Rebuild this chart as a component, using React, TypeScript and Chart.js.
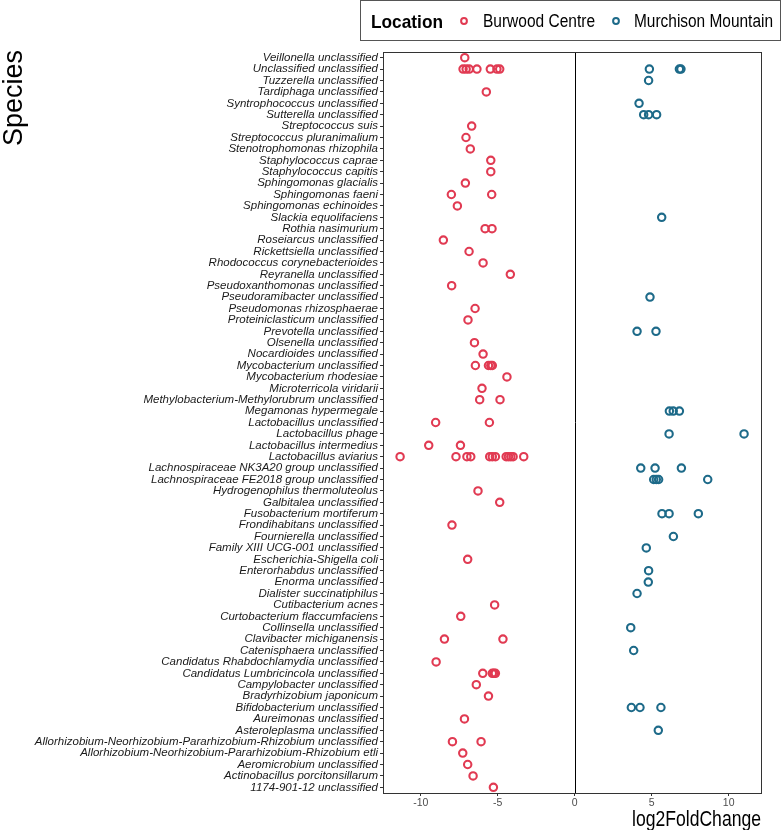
import React, { useEffect, useRef } from "react";
import { Chart, registerables } from "chart.js";

Chart.register(...registerables);

const species: string[] = [
  "Veillonella unclassified",
  "Unclassified unclassified",
  "Tuzzerella unclassified",
  "Tardiphaga unclassified",
  "Syntrophococcus unclassified",
  "Sutterella unclassified",
  "Streptococcus suis",
  "Streptococcus pluranimalium",
  "Stenotrophomonas rhizophila",
  "Staphylococcus caprae",
  "Staphylococcus capitis",
  "Sphingomonas glacialis",
  "Sphingomonas faeni",
  "Sphingomonas echinoides",
  "Slackia equolifaciens",
  "Rothia nasimurium",
  "Roseiarcus unclassified",
  "Rickettsiella unclassified",
  "Rhodococcus corynebacterioides",
  "Reyranella unclassified",
  "Pseudoxanthomonas unclassified",
  "Pseudoramibacter unclassified",
  "Pseudomonas rhizosphaerae",
  "Proteiniclasticum unclassified",
  "Prevotella unclassified",
  "Olsenella unclassified",
  "Nocardioides unclassified",
  "Mycobacterium unclassified",
  "Mycobacterium rhodesiae",
  "Microterricola viridarii",
  "Methylobacterium-Methylorubrum unclassified",
  "Megamonas hypermegale",
  "Lactobacillus unclassified",
  "Lactobacillus phage",
  "Lactobacillus intermedius",
  "Lactobacillus aviarius",
  "Lachnospiraceae NK3A20 group unclassified",
  "Lachnospiraceae FE2018 group unclassified",
  "Hydrogenophilus thermoluteolus",
  "Galbitalea unclassified",
  "Fusobacterium mortiferum",
  "Frondihabitans unclassified",
  "Fournierella unclassified",
  "Family XIII UCG-001 unclassified",
  "Escherichia-Shigella coli",
  "Enterorhabdus unclassified",
  "Enorma unclassified",
  "Dialister succinatiphilus",
  "Cutibacterium acnes",
  "Curtobacterium flaccumfaciens",
  "Collinsella unclassified",
  "Clavibacter michiganensis",
  "Catenisphaera unclassified",
  "Candidatus Rhabdochlamydia unclassified",
  "Candidatus Lumbricincola unclassified",
  "Campylobacter unclassified",
  "Bradyrhizobium japonicum",
  "Bifidobacterium unclassified",
  "Aureimonas unclassified",
  "Asteroleplasma unclassified",
  "Allorhizobium-Neorhizobium-Pararhizobium-Rhizobium unclassified",
  "Allorhizobium-Neorhizobium-Pararhizobium-Rhizobium etli",
  "Aeromicrobium unclassified",
  "Actinobacillus porcitonsillarum",
  "1174-901-12 unclassified",
];

// log2FoldChange values per species row (same order as species)
const burwoodValues: number[][] = [
  [-7.14],
  [-7.25, -7.05, -6.85, -6.35, -5.48, -5.05, -4.87],
  [],
  [-5.74],
  [],
  [],
  [-6.69],
  [-7.06],
  [-6.78],
  [-5.45],
  [-5.45],
  [-7.1],
  [-8.01, -5.39],
  [-7.62],
  [],
  [-5.82, -5.37],
  [-8.53],
  [-6.86],
  [-5.95],
  [-4.18],
  [-7.99],
  [],
  [-6.47],
  [-6.93],
  [],
  [-6.51],
  [-5.95],
  [-6.45, -5.6, -5.45, -5.35],
  [-4.4],
  [-6.02],
  [-6.17, -4.85],
  [],
  [-9.03, -5.54],
  [],
  [-9.48, -7.42],
  [-11.34, -7.71, -7.0, -6.75, -5.52, -5.35, -5.15, -4.45, -4.3, -4.15, -4.0, -3.31],
  [],
  [],
  [-6.28],
  [-4.87],
  [],
  [-7.97],
  [],
  [],
  [-6.95],
  [],
  [],
  [],
  [-5.2],
  [-7.4],
  [],
  [-8.46, -4.66],
  [],
  [-9.0],
  [-5.97, -5.35, -5.25, -5.15],
  [-6.39],
  [-5.6],
  [],
  [-7.16],
  [],
  [-7.94, -6.08],
  [-7.27],
  [-6.95],
  [-6.6],
  [-5.28],
];

const murchisonValues: number[][] = [
  [],
  [4.85, 6.8, 6.9],
  [4.8],
  [],
  [4.18],
  [4.48, 4.8, 5.32],
  [],
  [],
  [],
  [],
  [],
  [],
  [],
  [],
  [5.65],
  [],
  [],
  [],
  [],
  [],
  [],
  [4.89],
  [],
  [],
  [4.05, 5.28],
  [],
  [],
  [],
  [],
  [],
  [],
  [6.15, 6.4, 6.8],
  [],
  [6.13, 11.0],
  [],
  [],
  [4.29, 5.22, 6.93],
  [5.13, 5.3, 5.45, 8.64],
  [],
  [],
  [5.67, 6.13, 8.03],
  [],
  [6.41],
  [4.65],
  [],
  [4.8],
  [4.78],
  [4.05],
  [],
  [],
  [3.64],
  [],
  [3.83],
  [],
  [],
  [],
  [],
  [3.68, 4.24, 5.6],
  [],
  [5.43],
  [],
  [],
  [],
  [],
  [],
];

const xTickValues: number[] = [-10, -5, 0, 5, 10];
const seriesNames: string[] = ["Burwood Centre", "Murchison Mountain"];
const seriesColors: string[] = ["#E13A52", "#1D6A89"];
const legendTitle = "Location";
const xTitle = "log2FoldChange";
const yTitle = "Species";

const toPoints = (vals: number[][]) =>
  species.flatMap((s, i) => vals[i].map((v) => ({ x: v, y: s })));

const SANS = "'Liberation Sans', Arial, sans-serif";

// draw text squeezed horizontally to a target width
function fitText(
  ctx: CanvasRenderingContext2D,
  text: string,
  x: number,
  y: number,
  font: string,
  targetWidth: number,
  align: "left" | "right" | "center"
) {
  ctx.save();
  ctx.font = font;
  const w = ctx.measureText(text).width;
  const sx = targetWidth / w;
  ctx.translate(x, y);
  ctx.scale(sx, 1);
  ctx.textAlign = align;
  ctx.fillText(text, 0, 0);
  ctx.restore();
}

const decorPlugin = {
  id: "decor",
  beforeDatasetsDraw(chart: any) {
    const { ctx, chartArea, scales } = chart;
    ctx.save();
    const x0 = Math.round(scales.x.getPixelForValue(0)) + 0.5;
    ctx.strokeStyle = "#000";
    ctx.lineWidth = 1;
    ctx.beginPath();
    ctx.moveTo(x0, chartArea.top);
    ctx.lineTo(x0, chartArea.bottom);
    ctx.stroke();
    ctx.strokeStyle = "#333";
    ctx.strokeRect(
      Math.round(chartArea.left) + 0.5,
      Math.round(chartArea.top) + 0.5,
      Math.round(chartArea.right - chartArea.left),
      Math.round(chartArea.bottom - chartArea.top)
    );
    ctx.restore();
  },
  afterDraw(chart: any) {
    const { ctx, chartArea } = chart;
    ctx.save();
    // x title
    ctx.fillStyle = "#000";
    ctx.textBaseline = "alphabetic";
    fitText(ctx, xTitle, chartArea.right, 826, `22px ${SANS}`, 129, "right");
    // y title
    ctx.save();
    ctx.translate(22, 98);
    ctx.rotate(-Math.PI / 2);
    ctx.font = `27px ${SANS}`;
    ctx.textAlign = "center";
    ctx.textBaseline = "alphabetic";
    ctx.fillText(yTitle, 0, 0);
    ctx.restore();
    // legend box
    ctx.strokeStyle = "#555";
    ctx.lineWidth = 1;
    ctx.strokeRect(360.5, 0.5, 420, 40);
    ctx.fillStyle = "#000";
    ctx.textBaseline = "alphabetic";
    fitText(ctx, legendTitle, 371, 28, `bold 19px ${SANS}`, 72, "left");
    const markerX = [464, 616];
    const textX = [483, 634];
    const textW = [112, 139];
    seriesNames.forEach((name, i) => {
      ctx.beginPath();
      ctx.strokeStyle = seriesColors[i];
      ctx.lineWidth = 2;
      ctx.arc(markerX[i], 21, 2.9, 0, Math.PI * 2);
      ctx.stroke();
      ctx.fillStyle = "#000";
      fitText(ctx, name, textX[i], 27, `18px ${SANS}`, textW[i], "left");
    });
    ctx.restore();
  },
};

export default function App() {
  const ref = useRef<HTMLCanvasElement | null>(null);
  useEffect(() => {
    document.body.style.margin = "0";
    const canvas = ref.current;
    if (!canvas) return;
    const chart = new Chart(canvas, {
      type: "scatter",
      data: {
        labels: species,
        datasets: [
          {
            label: seriesNames[0],
            data: toPoints(burwoodValues) as any,
            borderColor: seriesColors[0],
            backgroundColor: "rgba(0,0,0,0)",
            pointRadius: 3.7,
            pointBorderWidth: 2.1,
          },
          {
            label: seriesNames[1],
            data: toPoints(murchisonValues) as any,
            borderColor: seriesColors[1],
            backgroundColor: "rgba(0,0,0,0)",
            pointRadius: 3.7,
            pointBorderWidth: 2.1,
          },
        ],
      },
      options: {
        animation: false,
        responsive: false,
        devicePixelRatio: 1,
        layout: { padding: { top: 52, right: 23, left: 0, bottom: 0 } },
        plugins: {
          legend: { display: false },
          tooltip: { enabled: false },
        },
        scales: {
          x: {
            type: "linear",
            min: -12.45,
            max: 12.1,
            afterBuildTicks: (scale: any) => {
              scale.ticks = xTickValues.map((v) => ({ value: v }));
            },
            afterFit: (scale: any) => {
              scale.height = 37;
            },
            grid: {
              display: true,
              drawOnChartArea: false,
              drawTicks: true,
              tickLength: 3,
              color: "#333",
            },
            border: { display: false },
            ticks: {
              padding: 1,
              color: "#4d4d4d",
              font: { family: SANS, size: 10.5 },
            },
          },
          y: {
            type: "category",
            labels: species,
            offset: true,
            afterFit: (scale: any) => {
              scale.width = 383;
            },
            grid: {
              display: true,
              offset: false,
              drawOnChartArea: false,
              drawTicks: true,
              tickLength: 3,
              color: "#333",
            },
            border: { display: false },
            ticks: {
              autoSkip: false,
              padding: 2,
              color: "#1a1a1a",
              font: { family: SANS, size: 11.5, style: "italic" },
            },
          },
        },
      },
      plugins: [decorPlugin],
    } as any);
    return () => chart.destroy();
  }, []);
  return <canvas ref={ref} width={784} height={830} style={{ display: "block" }} />;
}
